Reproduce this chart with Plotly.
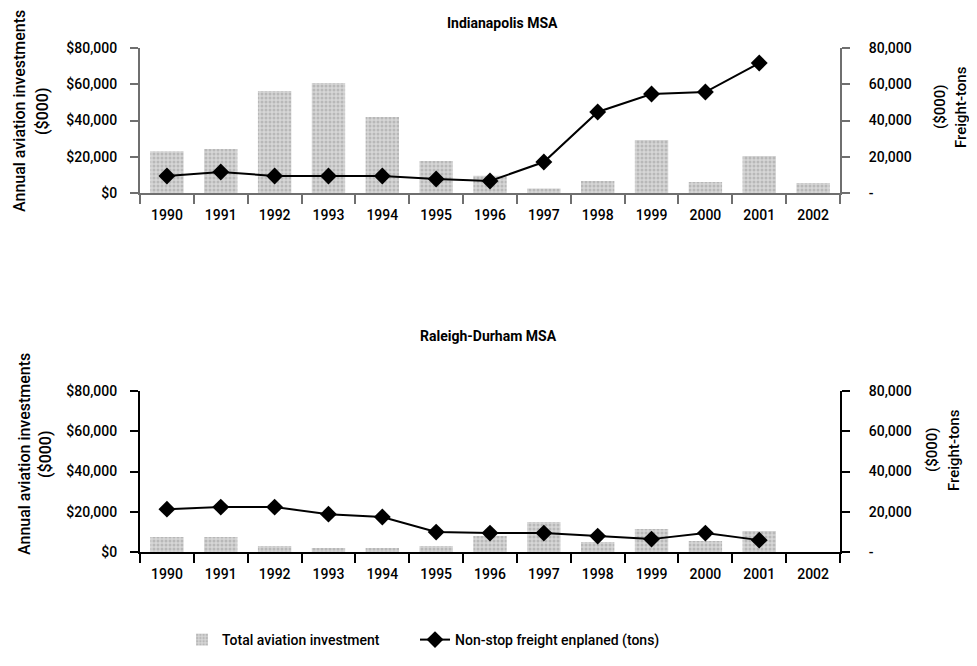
import plotly.graph_objects as go

years = ["1990", "1991", "1992", "1993", "1994", "1995", "1996",
         "1997", "1998", "1999", "2000", "2001", "2002"]

# Indianapolis MSA
indy_investment = [23000, 24300, 56300, 60700, 41900, 17700, 9500,
                   2500, 6600, 29200, 6100, 20400, 5500]
indy_freight = [9400, 11600, 9400, 9400, 9400, 7700, 6600,
                17100, 44700, 54600, 55700, 71700, None]

# Raleigh-Durham MSA
rdu_investment = [7400, 7400, 3000, 2000, 2000, 3000, 8000,
                  14900, 5000, 11400, 5500, 10400, 0]
rdu_freight = [21300, 22300, 22300, 18800, 17400, 9900, 9400,
               9400, 7900, 6400, 9400, 5900, None]

left_ticks = [0, 20000, 40000, 60000, 80000]
left_text = ["$0", "$20,000", "$40,000", "$60,000", "$80,000"]
right_text = ["-", "20,000", "40,000", "60,000", "80,000"]

FONT = "Roboto, Lato, sans-serif"

W, H = 977, 666
OFF = 8  # page body margin offset
ML, MR, MT, MB = 140 - OFF, 137 + OFF, 20 - OFF, 20 + OFF
PW, PH = W - ML - MR, H - MT - MB


def px(sx):
    return (sx - OFF - ML) / PW


def py(sy):
    return (H - MB - (sy - OFF)) / PH


bar_style = dict(
    color="#cccccc",
    pattern=dict(shape=".", fgcolor="#9a9a9a", bgcolor="#d6d6d6", size=4, solidity=0.45),
    line=dict(width=0),
)
line_style = dict(color="black", width=2)
marker_style = dict(symbol="diamond", size=13, color="black")

fig = go.Figure()

fig.add_trace(go.Bar(x=years, y=indy_investment, name="Total aviation investment",
                     marker=bar_style, xaxis="x", yaxis="y", legend="legend"))
fig.add_trace(go.Scatter(x=years, y=indy_freight, name="Non-stop freight enplaned (tons)",
                         mode="lines+markers", line=line_style, marker=marker_style,
                         xaxis="x", yaxis="y2", legend="legend2"))
fig.add_trace(go.Bar(x=years, y=rdu_investment, name="Total aviation investment",
                     marker=bar_style, xaxis="x2", yaxis="y3", showlegend=False))
fig.add_trace(go.Scatter(x=years, y=rdu_freight, name="Non-stop freight enplaned (tons)",
                         mode="lines+markers", line=line_style, marker=marker_style,
                         xaxis="x2", yaxis="y4", showlegend=False))

axis_font = dict(family=FONT, size=14, color="black", weight=500)


def xaxis_cfg(anchor, color):
    return dict(
        anchor=anchor, domain=[0, 1], type="category", automargin=False,
        showline=True, linecolor=color, linewidth=2,
        ticks="outside", tickson="boundaries", ticklen=9, tickwidth=2, tickcolor=color,
        ticklabelstandoff=8, tickfont=axis_font, showgrid=False, zeroline=False,
        range=[-0.5, 12.5],
    )


def yleft_cfg(domain, anchor, color):
    return dict(
        domain=domain, anchor=anchor, range=[0, 80000], automargin=False,
        tickvals=left_ticks, ticktext=left_text, tickfont=axis_font,
        showline=True, linecolor=color, linewidth=2,
        ticks="outside", ticklen=8, tickwidth=2, tickcolor=color,
        ticklabelstandoff=10, showgrid=False, zeroline=False,
    )


def yright_cfg(overlay, anchor, color):
    return dict(
        overlaying=overlay, anchor=anchor, side="right", range=[0, 80000], automargin=False,
        tickvals=left_ticks, ticktext=right_text, tickfont=axis_font,
        showline=True, linecolor=color, linewidth=2,
        ticks="outside", ticklen=8, tickwidth=2, tickcolor=color,
        ticklabelstandoff=16, showgrid=False, zeroline=False,
    )


def vtext(text, sx, sy, size=15):
    return dict(text=text, x=px(sx), y=py(sy), xref="paper", yref="paper",
                xanchor="center", yanchor="middle", textangle=-90, showarrow=False,
                font=dict(family=FONT, size=size, color="black", weight=500))


def htext(text, sx, sy):
    return dict(text=text, x=px(sx), y=py(sy), xref="paper", yref="paper",
                xanchor="center", yanchor="middle", showarrow=False,
                font=dict(family=FONT, size=14, color="black", weight=700))


top_dom = [py(193), py(48)]
bot_dom = [py(552), py(391)]

fig.update_layout(
    width=W, height=H,
    paper_bgcolor="white", plot_bgcolor="white",
    margin=dict(l=ML, r=MR, t=MT, b=MB, autoexpand=False),
    font=dict(family=FONT, size=14, color="black"),
    bargap=0.38,
    xaxis=xaxis_cfg("y", "#6f6f6f"),
    yaxis=yleft_cfg(top_dom, "x", "#6f6f6f"),
    yaxis2=yright_cfg("y", "x", "#6f6f6f"),
    xaxis2=xaxis_cfg("y3", "black"),
    yaxis3=yleft_cfg(bot_dom, "x2", "black"),
    yaxis4=yright_cfg("y3", "x2", "black"),
    legend=dict(orientation="h", xref="container", yref="container",
                x=(182 - OFF) / W, y=(H - (640 - OFF)) / H, xanchor="left", yanchor="middle",
                font=dict(family=FONT, size=14, color="black", weight=500)),
    legend2=dict(orientation="h", xref="container", yref="container",
                 x=(415 - OFF) / W, y=(H - (640 - OFF)) / H, xanchor="left", yanchor="middle",
                 font=dict(family=FONT, size=14, color="black", weight=500)),
    annotations=[
        htext("Indianapolis MSA", 502, 23),
        htext("Raleigh-Durham MSA", 488, 336),
        vtext("Annual aviation investments", 20, 111, 16),
        vtext("($000)", 43, 111, 16),
        vtext("Annual aviation investments", 24, 454, 16),
        vtext("($000)", 45, 454, 16),
        vtext("($000)", 940, 107),
        vtext("Freight-tons", 961, 107),
        vtext("($000)", 932, 450),
        vtext("Freight-tons", 954, 450),
    ],
)

fig.write_html("out.html")
